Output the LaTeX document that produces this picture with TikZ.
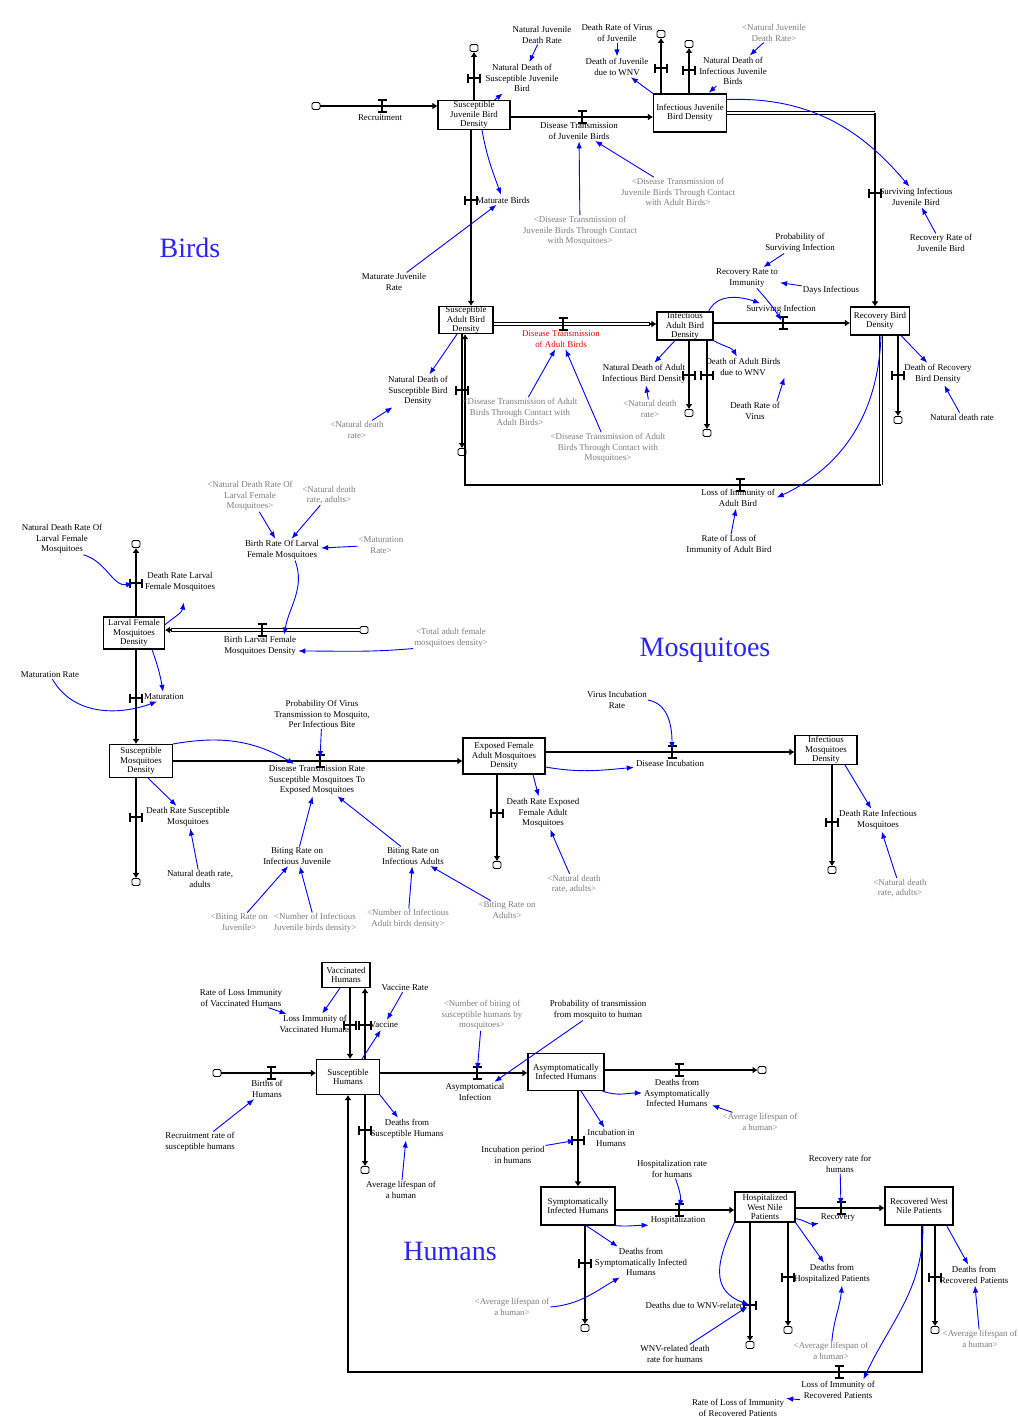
\documentclass[tikz,border=0pt]{standalone}
\usepackage{fontspec}
\setmainfont{Liberation Serif}
\usetikzlibrary{arrows.meta}
\newcommand\labfont{\fontsize{8.9}{10.5}\selectfont}
\newcommand\stkfont{\fontsize{8.9}{9.6}\selectfont}
\definecolor{titleblue}{RGB}{45,35,255}
\definecolor{shade}{RGB}{125,125,125}
\tikzset{
  stock/.style={draw, line width=1.1pt, fill=white, align=center, inner sep=0pt, font=\stkfont},
  lab/.style={align=center, inner sep=1pt, font=\labfont},
  shd/.style={lab, text=shade},
  cloudn/.style={draw, line width=0.8pt, fill=white, minimum width=8pt, minimum height=7pt, inner sep=0pt, rounded corners=1.5pt},
  pipe/.style={line width=2.6pt, -{Latex[length=5pt,width=7pt]}},
  dline/.style={line width=1pt, double=white, double distance=1.4pt},
  info/.style={draw=blue, line width=0.9pt, -{Latex[length=7pt,width=5.5pt]}, shorten >=1pt},
  bigtitle/.style={text=titleblue, font=\fontsize{28}{30}\selectfont, inner sep=0pt},
  hval/.pic={\draw[line width=1.5pt] (-4.5,-6)--(4.5,-6) (0,-6)--(0,6) (-4.5,6)--(4.5,6);},
  vval/.pic={\draw[line width=1.5pt] (-6,-4.5)--(-6,4.5) (-6,0)--(6,0) (6,-4.5)--(6,4.5);}
}
\begin{document}
\begin{tikzpicture}[x=1pt,y=-1pt]
\fill[white] (0,0) rectangle (1019,1417);
\useasboundingbox (0,0) rectangle (1019,1417);

% ================= BIRDS =================
\coordinate (vR) at (382,106);
\coordinate (vDTJ) at (582,117);
\coordinate (vDTA) at (563,324);
\coordinate (vSI) at (783,323);
\coordinate (vLIA) at (740,485);
\coordinate (vNS) at (474,78);
\coordinate (vIJa) at (661,68);
\coordinate (vIJb) at (689,70);
\coordinate (vSIJ) at (875,193);
\coordinate (vMB) at (471,200);
\coordinate (vSAB) at (462,390);
\coordinate (vIAa) at (689,375);
\coordinate (vIAb) at (707,375);
\coordinate (vRB) at (898,375);
\coordinate (k1) at (875,113);
\coordinate (k2) at (881,485);
\coordinate (k3) at (465,485);

\node[stock, minimum width=72, minimum height=29] (SJ) at (474,115) {Susceptible\\Juvenile Bird\\Density};
\node[stock, minimum width=73, minimum height=38] (IJ) at (690,113) {Infectious Juvenile\\Bird Density};
\node[stock, minimum width=54, minimum height=27] (SAB) at (466,320) {Susceptible\\Adult Bird\\Density};
\node[stock, minimum width=56, minimum height=28] (IAB) at (685,326) {Infectious\\Adult Bird\\Density};
\node[stock, minimum width=59, minimum height=28] (RBD) at (880,321) {Recovery Bird\\Density};

\node[cloudn] (cR) at (316,106) {};
\node[cloudn] (cNS) at (474,48) {};
\node[cloudn] (cIJa) at (661,34) {};
\node[cloudn] (cIJb) at (689,44) {};
\node[cloudn] (cSAB) at (462,452) {};
\node[cloudn] (cIAa) at (689,413) {};
\node[cloudn] (cIAb) at (707,433) {};
\node[cloudn] (cRB) at (898,420) {};

\draw[pipe] (cR) -- (SJ.west |- cR);
\draw[pipe] (SJ.north) -- (cNS);
\draw[pipe] (SJ.east |- vDTJ) -- (IJ.west |- vDTJ);
\draw[pipe] (IJ.north -| cIJa) -- (cIJa);
\draw[pipe] (IJ.north -| cIJb) -- (cIJb);
\draw[dline] (IJ.east) -- (k1);
\draw[pipe] (k1) -- (RBD.north -| k1);
\draw[pipe] (SJ.south -| vMB) -- (SAB.north -| vMB);
\draw[dline] (SAB.east |- vDTA) -- ([xshift=-6pt]IAB.west |- vDTA);
\draw[pipe] ([xshift=-7pt]IAB.west |- vDTA) -- (IAB.west |- vDTA);
\draw[pipe] (IAB.east |- vSI) -- (RBD.west |- vSI);
\draw[pipe] (IAB.south -| cIAa) -- (cIAa);
\draw[pipe] (IAB.south -| cIAb) -- (cIAb);
\draw[pipe] (RBD.south -| cRB) -- (cRB);
\draw[pipe] (SAB.south -| cSAB) -- (cSAB);
\draw[dline] (RBD.south -| k2) -- (k2);
\draw[pipe] (k2) -- (k3) -- (SAB.south -| k3);

\foreach \v in {vR,vDTJ,vDTA,vSI,vLIA} \pic at (\v) {hval};
\foreach \v in {vNS,vIJa,vIJb,vSIJ,vMB,vSAB,vIAa,vIAb,vRB} \pic at (\v) {vval};

\node[lab] (Lrec) at (380,118) {Recruitment};
\node[lab] (LNS) at (522,78) {Natural Death of\\Susceptible Juvenile\\Bird};
\node[lab] (NJDR) at (542,35) {Natural Juvenile\\Death Rate};
\node[lab] (DTJ) at (579,131) {Disease Transmission\\of Juvenile Birds};
\node[lab] (DJW) at (617,67) {Death of Juvenile\\due to WNV};
\node[lab] (DRVJ) at (617,33) {Death Rate of Virus\\of Juvenile};
\node[lab] (NDIJ) at (733,71) {Natural Death of\\Infectious Juvenile\\Birds};
\node[shd] (NJDR2) at (774,33) {<Natural Juvenile\\Death Rate>};
\node[lab] (SIJ) at (916,197) {Surviving Infectious\\Juvenile Bird};
\node[lab] (RRJ) at (941,243) {Recovery Rate of\\Juvenile Bird};
\node[lab] (MB) at (503,200) {Maturate Birds};
\node[lab] (MJR) at (394,282) {Maturate Juvenile\\Rate};
\node[shd] (DTJM) at (580,231) {<Disease Transmission of\\Juvenile Birds Through Contact\\with Mosquitoes>};
\node[shd] (DTJA) at (678,192) {<Disease Transmission of\\Juvenile Birds Through Contact\\with Adult Birds>};
\node[lab, text=red] (DTA) at (561,339) {Disease Transmission\\of Adult Birds};
\node[lab] (SI) at (781,309) {Surviving Infection};
\node[lab] (RRI) at (747,278) {Recovery Rate to\\Immunity};
\node[lab] (PSI) at (800,243) {Probability of\\Surviving Infection};
\node[lab] (DI) at (831,290) {Days Infectious};
\node[lab] (LIA) at (738,498) {Loss of Immunity of\\Adult Bird};
\node[lab] (RLIA) at (729,545) {Rate of Loss of\\Immunity of Adult Bird};
\node[lab] (NDSB) at (418,391) {Natural Death of\\Susceptible Bird\\Density};
\node[shd] (NDR1) at (357,430) {<Natural death\\rate>};
\node[shd] (DTAA) at (520,412) {<Disease Transmission of Adult\\Birds Through Contact with\\Adult Birds>};
\node[shd] (DTAM) at (608,448) {<Disease Transmission of Adult\\Birds Through Contact with\\Mosquitoes>};
\node[lab] (NDAI) at (644,374) {Natural Death of Adult\\Infectious Bird Density};
\node[lab] (DAW) at (743,367) {Death of Adult Birds\\due to WNV};
\node[shd] (NDR2) at (650,409) {<Natural death\\rate>};
\node[lab] (DRV) at (755,411) {Death Rate of\\Virus};
\node[lab] (DRB) at (938,374) {Death of Recovery\\Bird Density};
\node[lab] (NDR3) at (962,417) {Natural death rate};
\node[bigtitle] (tB) at (190,248) {Birds};

\draw[info] (NJDR) -- (LNS);
\draw[info] ([xshift=-16pt]SJ.north east) -- (LNS);
\draw[info] (DRVJ) -- (DJW);
\draw[info] (IJ.north west) -- (DJW);
\draw[info] (NJDR2) -- (NDIJ);
\draw[info] (NDIJ) -- ([xshift=18pt]IJ.north);
\draw[info] (IJ.20) to[out=2,in=130] ([xshift=-6pt]SIJ.north);
\draw[info] (RRJ) -- (SIJ);
\draw[info] ([xshift=8pt]SJ.south) to[out=-80,in=110] (MB);
\draw[info] (MJR) -- (MB);
\draw[info] (DTJM) -- (DTJ);
\draw[info] (DTJA) -- (DTJ);
\draw[info] (PSI) -- (RRI);
\draw[info] (DI) -- (RRI);
\draw[info, shorten >=3pt] (RRI) to[bend left=5] (vSI);
\draw[info] ([xshift=-5pt]IAB.north east) to[out=65,in=160] ([xshift=16pt]SI.north west);
\draw[info] (RLIA) -- (LIA);
\draw[info] (RBD.south -| k2) to[out=-92,in=25] (LIA.east);
\draw[info] ([xshift=-9pt]SAB.south) -- (NDSB);
\draw[info] (NDR1) -- (NDSB);
\draw[info] (DTAA) -- (DTA);
\draw[info] (DTAM) -- (DTA);
\draw[info] ([xshift=-10pt]IAB.south) -- (NDAI);
\draw[info] (IAB.south east) to[out=-30,in=120] (DAW);
\draw[info] (NDR2) -- (NDAI);
\draw[info] ([xshift=-4pt]DRV.north east) -- ([xshift=3pt]DAW.south east);
\draw[info] ([xshift=-9pt]RBD.south east) -- (DRB);
\draw[info] (NDR3) -- (DRB);

% ================= MOSQUITOES =================
\coordinate (vLD) at (136,583);
\coordinate (vMat) at (136,698);
\coordinate (vSM) at (136,817);
\coordinate (vEF) at (497,813);
\coordinate (vIM) at (832,822);
\coordinate (vLB) at (262,630);
\coordinate (vDTR) at (320,761);
\coordinate (vDInc) at (672,752);

\node[stock, minimum width=61, minimum height=32] (LFM) at (134,633) {Larval Female\\Mosquitoes\\Density};
\node[stock, minimum width=63, minimum height=33] (SM) at (141,761) {Susceptible\\Mosquitoes\\Density};
\node[stock, minimum width=82, minimum height=36] (EFAM) at (504,756) {Exposed Female\\Adult Mosquitoes\\Density};
\node[stock, minimum width=62, minimum height=29] (IM) at (826,750) {Infectious\\Mosquitoes\\Density};

\node[cloudn] (cLD) at (136,544) {};
\node[cloudn] (cLB) at (364,630) {};
\node[cloudn] (cSM) at (136,882) {};
\node[cloudn] (cEF) at (497,865) {};
\node[cloudn] (cIM) at (832,870) {};

\draw[pipe] (LFM.north -| cLD) -- (cLD);
\draw[dline] (cLB) -- ([xshift=6pt]LFM.east |- cLB);
\draw[pipe] ([xshift=7pt]LFM.east |- cLB) -- (LFM.east |- cLB);
\draw[pipe] (LFM.south -| vMat) -- (SM.north -| vMat);
\draw[pipe] (SM.south -| cSM) -- (cSM);
\draw[pipe] (SM.east |- vDTR) -- (EFAM.west |- vDTR);
\draw[pipe] (EFAM.south -| cEF) -- (cEF);
\draw[pipe] (EFAM.east |- vDInc) -- (IM.west |- vDInc);
\draw[pipe] (IM.south -| cIM) -- (cIM);

\foreach \v in {vLB,vDTR,vDInc} \pic at (\v) {hval};
\foreach \v in {vLD,vMat,vSM,vEF,vIM} \pic at (\v) {vval};

\node[lab] (DRL) at (180,582) {Death Rate Larval\\Female Mosquitoes};
\node[lab] (NDRL) at (62,539) {Natural Death Rate Of\\Larval Female\\Mosquitoes};
\node[lab] (BLF) at (260,646) {Birth Larval Female\\Mosquitoes Density};
\node[lab] (BRL) at (282,550) {Birth Rate Of Larval\\Female Mosquitoes};
\node[shd] (NDRL2) at (250,496) {<Natural Death Rate Of\\Larval Female\\Mosquitoes>};
\node[shd] (NDRA1) at (329,495) {<Natural death\\rate, adults>};
\node[shd] (MR2) at (381,545) {<Maturation\\Rate>};
\node[shd] (TAF) at (451,638) {<Total adult female\\mosquitoes density>};
\node[lab] (Mat) at (164,697) {Maturation};
\node[lab] (MR) at (50,675) {Maturation Rate};
\node[lab] (DRS) at (188,817) {Death Rate Susceptible\\Mosquitoes};
\node[lab] (NDRA2) at (200,879) {Natural death rate,\\adults};
\node[lab] (DTR) at (317,780) {Disease Transmission Rate\\Susceptible Mosquitoes To\\Exposed Mosquitoes};
\node[lab] (PVT) at (322,714) {Probability Of Virus\\Transmission to Mosquito,\\Per Infectious Bite};
\node[lab] (BRIJ) at (297,856) {Biting Rate on\\Infectious Juvenile};
\node[lab] (BRIA) at (413,856) {Biting Rate on\\Infectious Adults};
\node[shd] (BRJ) at (239,922) {<Biting Rate on\\Juvenile>};
\node[shd] (NIJ) at (315,923) {<Number of Infectious\\Juvenile birds density>};
\node[shd] (NIA) at (408,919) {<Number of Infectious\\Adult birds density>};
\node[shd] (BRA) at (507,910) {<Biting Rate on\\Adults>};
\node[lab] (DRE) at (543,813) {Death Rate Exposed\\Female Adult\\Mosquitoes};
\node[shd] (NDRA3) at (574,884) {<Natural death\\rate, adults>};
\node[lab] (DInc) at (670,763) {Disease Incubation};
\node[lab] (VIR) at (617,700) {Virus Incubation\\Rate};
\node[lab] (DRI) at (878,820) {Death Rate Infectious\\Mosquitoes};
\node[shd] (NDRA4) at (900,888) {<Natural death\\rate, adults>};
\node[bigtitle] (tM) at (705,650) {Mosquitoes};

\draw[info, shorten >=3pt] ([xshift=-20pt]NDRL.south east) to[out=-15,in=190] (vLD);
\draw[info] (LFM.15) to[out=40,in=-100] ([xshift=4pt,yshift=-9pt]DRL.south);
\draw[info] ([xshift=-25pt]BRL.south east) to[out=-70,in=80] ([xshift=24pt]BLF.north);
\draw[info] (NDRL2) -- (BRL);
\draw[info] (NDRA1) -- (BRL);
\draw[info] (MR2) -- (BRL);
\draw[info] (TAF.south west) to[out=185,in=0] ([yshift=-5pt]BLF.east);
\draw[info] ([xshift=18pt]LFM.south) to[out=-70,in=100] (Mat);
\draw[info] (MR) to[out=-60,in=-160] ([xshift=-6pt]Mat.south);
\draw[info] ([xshift=7pt]SM.south) -- (DRS);
\draw[info] (NDRA2) -- (DRS);
\draw[info, shorten >=3pt] (PVT) -- (vDTR);
\draw[info] (SM.north east) to[out=10,in=150] ([xshift=-22pt]DTR.north);
\draw[info] (BRIJ) -- (DTR);
\draw[info] (BRIA) -- (DTR);
\draw[info] (BRJ) -- (BRIJ);
\draw[info] (NIJ) -- (BRIJ);
\draw[info] (NIA) -- (BRIA);
\draw[info] (BRA) -- (BRIA);
\draw[info] ([xshift=29pt]EFAM.south) -- (DRE);
\draw[info] (NDRA3) -- (DRE);
\draw[info, shorten >=3pt] (VIR.east) to[out=-10,in=90] (vDInc);
\draw[info] ([yshift=-11pt]EFAM.east) to[out=-10,in=185] (DInc.south west);
\draw[info] ([xshift=19pt]IM.south) -- (DRI);
\draw[info] (NDRA4) -- (DRI);

% ================= HUMANS =================
\coordinate (vLIV) at (350,1025);
\coordinate (vVac) at (365,1025);
\coordinate (vBH) at (271,1073);
\coordinate (vAI) at (477,1073);
\coordinate (vDAI) at (679,1070);
\coordinate (vDSH) at (365,1130);
\coordinate (vInc) at (578,1140);
\coordinate (vHos) at (679,1210);
\coordinate (vRec) at (841,1208);
\coordinate (vSy) at (585,1263);
\coordinate (vH1) at (750,1305);
\coordinate (vH2) at (788,1277);
\coordinate (vRW) at (935,1277);
\coordinate (vLIR) at (839,1372);
\coordinate (k4) at (922,1372);
\coordinate (k5) at (348,1372);

\node[stock, minimum width=48, minimum height=25] (VH) at (346,975) {Vaccinated\\Humans};
\node[stock, minimum width=63, minimum height=35] (SH) at (348,1077) {Susceptible\\Humans};
\node[stock, minimum width=76, minimum height=37] (AIH) at (566,1072) {Asymptomatically\\Infected Humans};
\node[stock, minimum width=74, minimum height=38] (SyIH) at (578,1206) {Symptomatically\\Infected Humans};
\node[stock, minimum width=60, minimum height=30] (HWNP) at (765,1207) {Hospitalized\\West Nile\\Patients};
\node[stock, minimum width=68, minimum height=38] (RWNP) at (919,1206) {Recovered West\\Nile Patients};

\node[cloudn] (cBH) at (217,1073) {};
\node[cloudn] (cAI) at (762,1070) {};
\node[cloudn] (cSH) at (365,1170) {};
\node[cloudn] (cSy) at (585,1328) {};
\node[cloudn] (cH1) at (750,1345) {};
\node[cloudn] (cH2) at (788,1330) {};
\node[cloudn] (cRW) at (935,1330) {};

\draw[pipe] (VH.south -| vLIV) -- (SH.north -| vLIV);
\draw[pipe] (SH.north -| vVac) -- (VH.south -| vVac);
\draw[pipe] (cBH) -- (SH.west |- cBH);
\draw[pipe] (SH.east |- vAI) -- (AIH.west |- vAI);
\draw[pipe] (AIH.east |- cAI) -- (cAI);
\draw[pipe] (SH.south -| cSH) -- (cSH);
\draw[pipe] (AIH.south -| vInc) -- (SyIH.north -| vInc);
\draw[pipe] (SyIH.east |- vHos) -- (HWNP.west |- vHos);
\draw[pipe] (HWNP.east |- vRec) -- (RWNP.west |- vRec);
\draw[pipe] (SyIH.south -| cSy) -- (cSy);
\draw[pipe] (HWNP.south -| cH1) -- (cH1);
\draw[pipe] (HWNP.south -| cH2) -- (cH2);
\draw[pipe] (RWNP.south -| cRW) -- (cRW);
\draw[pipe] (RWNP.south -| k4) -- (k4) -- (k5) -- (SH.south -| k5);

\foreach \v in {vBH,vAI,vDAI,vHos,vRec,vLIR} \pic at (\v) {hval};
\foreach \v in {vLIV,vVac,vDSH,vInc,vSy,vH1,vH2,vRW} \pic at (\v) {vval};

\node[lab] (LIV) at (315,1024) {Loss Immunity of\\Vaccinated Humans};
\node[lab] (Vac) at (384,1025) {Vaccine};
\node[lab] (RLIV) at (241,998) {Rate of Loss Immunity\\of Vaccinated Humans};
\node[lab] (VR) at (405,988) {Vaccine Rate};
\node[lab] (BH) at (267,1089) {Births of\\Humans};
\node[lab] (RRS) at (200,1142) {Recruitment rate of\\susceptible humans};
\node[lab] (AI) at (475,1092) {Asymptomatical\\Infection};
\node[shd] (NBS) at (482,1015) {<Number of biting of\\susceptible humans by\\mosquitoes>};
\node[lab] (PTM) at (598,1010) {Probability of transmission\\from mosquito to human};
\node[lab] (DAI) at (677,1093) {Deaths from\\Asymptomatically\\Infected Humans};
\node[shd] (AL1) at (760,1122) {<Average lifespan of\\a human>};
\node[lab] (DSH) at (407,1129) {Deaths from\\Susceptible Humans};
\node[lab] (AL0) at (401,1190) {Average lifespan of\\a human};
\node[lab] (IncH) at (611,1138) {Incubation in\\Humans};
\node[lab] (IPH) at (513,1155) {Incubation period\\in humans};
\node[lab] (Hos) at (678,1220) {Hospitalization};
\node[lab] (HRH) at (672,1169) {Hospitalization rate\\for humans};
\node[lab] (Rec) at (838,1218) {Recovery};
\node[lab] (RRH) at (840,1164) {Recovery rate for\\humans};
\node[lab] (DSy) at (641,1262) {Deaths from\\Symptomatically Infected\\Humans};
\node[shd] (AL2) at (512,1307) {<Average lifespan of\\a human>};
\node[lab] (DWN) at (695,1305) {Deaths due to WNV-related};
\node[lab] (WDR) at (675,1354) {WNV-related death\\rate for humans};
\node[lab] (DHP) at (832,1274) {Deaths from\\Hospitalized Patients};
\node[shd] (AL3) at (831,1351) {<Average lifespan of\\a human>};
\node[lab] (DRP) at (974,1275) {Deaths from\\Recovered Patients};
\node[shd] (AL4) at (980,1339) {<Average lifespan of\\a human>};
\node[lab] (LIR) at (838,1390) {Loss of Immunity of\\Recovered Patients};
\node[lab] (RLIR) at (738,1408) {Rate of Loss of Immunity\\of Recovered Patients};
\node[bigtitle] (tH) at (450,1251) {Humans};

\draw[info] (RLIV) -- (LIV);
\draw[info] ([xshift=-6pt]VH.south) -- (LIV);
\draw[info] (VR) -- (Vac);
\draw[info] ([xshift=14pt]SH.north) -- (Vac);
\draw[info] (RRS) -- (BH);
\draw[info, shorten >=3pt] (NBS) -- (vAI);
\draw[info] (PTM) -- ([xshift=-12pt]AI.north east);
\draw[info] ([xshift=-2pt]AIH.south east) to[out=-20,in=180] (DAI.west);
\draw[info] (AL1) -- (DAI);
\draw[info] (SH.south east) -- (DSH);
\draw[info] (AL0) -- (DSH);
\draw[info] ([xshift=15pt]AIH.south) -- (IncH);
\draw[info, shorten >=3pt] (IPH.north east) -- (vInc);
\draw[info, shorten >=3pt] (HRH.-70) to[out=-70,in=80] (vHos);
\draw[info] ([xshift=-1pt]SyIH.south east) to[out=-5,in=180] (Hos.south west);
\draw[info, shorten >=3pt] (RRH) -- (vRec);
\draw[info] ([yshift=4pt]HWNP.south east) to[out=-10,in=190] (Rec.south west);
\draw[info] ([xshift=8pt]SyIH.south) -- (DSy);
\draw[info] (AL2.east) to[out=5,in=210] ([xshift=27pt]DSy.south west);
\draw[info] (HWNP.south west) to[out=-115,in=160,looseness=1.3] (vH1);
\draw[info, shorten >=3pt] (WDR) -- (vH1);
\draw[info] (HWNP.south east) -- (DHP);
\draw[info] (AL3) to[out=85,in=-95] ([xshift=10pt]DHP.south);
\draw[info] ([xshift=-7pt]RWNP.south east) -- (DRP);
\draw[info] (AL4) -- (DRP);
\draw[info] ([xshift=4pt]RWNP.south) to[out=-90,in=65] ([xshift=-13pt]LIR.north east);
\draw[info] (LIR.south west) -- (RLIR.north east);
\end{tikzpicture}
\end{document}
